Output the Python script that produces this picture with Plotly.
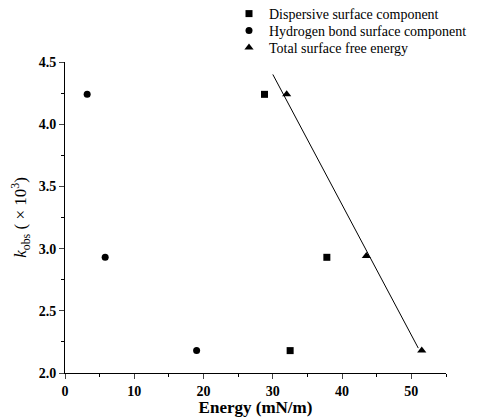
import plotly.graph_objects as go

disp_x = [28.8, 37.8, 32.5]
disp_y = [4.24, 2.93, 2.18]
hb_x = [3.2, 5.8, 19.0]
hb_y = [4.24, 2.93, 2.18]
tot_x = [32.0, 43.5, 51.5]
tot_y = [4.24, 2.94, 2.18]
fit_x = [30.0, 51.0]
fit_y = [4.40, 2.20]

x_ticks = [0, 10, 20, 30, 40, 50]
y_ticks = [2.0, 2.5, 3.0, 3.5, 4.0, 4.5]

font = "Liberation Serif, serif"

fig = go.Figure()
fig.add_trace(go.Scatter(x=fit_x, y=fit_y, mode="lines", line=dict(color="black", width=1),
                         showlegend=False, hoverinfo="skip"))
fig.add_trace(go.Scatter(x=disp_x, y=disp_y, mode="markers", name="Dispersive surface component",
                         marker=dict(symbol="square", size=7, color="black"), legend="legend"))
fig.add_trace(go.Scatter(x=hb_x, y=hb_y, mode="markers", name="Hydrogen bond surface component",
                         marker=dict(symbol="circle", size=7, color="black"), legend="legend2"))
fig.add_trace(go.Scatter(x=tot_x, y=tot_y, mode="markers", name="Total surface free energy",
                         marker=dict(symbol="triangle-up", size=8, color="black"), legend="legend3"))

W, H = 469, 409
ML, MR, MT, MB = 57, 31, 54, 44
ph = H - MT - MB
pw = W - ML - MR


def leg(fig_x, fig_y):
    return dict(x=(fig_x - ML) / pw, y=(H - MB - fig_y) / ph, xref="paper", yref="paper",
                xanchor="left", yanchor="middle",
                font=dict(size=14, family=font, color="black"), bgcolor="rgba(0,0,0,0)",
                itemwidth=30, borderwidth=0)


fig.update_layout(
    width=W, height=H,
    margin=dict(l=ML, r=MR, t=MT, b=MB, autoexpand=False),
    paper_bgcolor="white", plot_bgcolor="white",
    font=dict(family=font, color="black"),
    legend=leg(221, 6),
    legend2=leg(221, 23),
    legend3=leg(221, 40),
    xaxis=dict(range=[0, 55], tickvals=x_ticks, ticks="outside", ticklen=5, tickwidth=1,
               showline=True, linecolor="black", linewidth=1, showgrid=False, zeroline=False,
               automargin=False,
               tickfont=dict(size=14, family=font, weight="bold"),
               minor=dict(dtick=5, ticks="outside", ticklen=3, tickcolor="black"),
               title=dict(text="<b>Energy (mN/m)</b>", font=dict(size=17, family=font), standoff=4)),
    yaxis=dict(range=[2.0, 4.5], tickvals=y_ticks, tickformat=".1f", ticks="outside", ticklen=5, tickwidth=1,
               showline=True, linecolor="black", linewidth=1, showgrid=False, zeroline=False,
               automargin=False,
               tickfont=dict(size=14, family=font, weight="bold"),
               minor=dict(dtick=0.25, ticks="outside", ticklen=3, tickcolor="black"),
               title=dict(text="<i>k</i><sub>obs</sub> ( \u00d7 10<sup>3</sup>)", font=dict(size=17, family=font), standoff=10)),
)

fig.write_html("out.html")
